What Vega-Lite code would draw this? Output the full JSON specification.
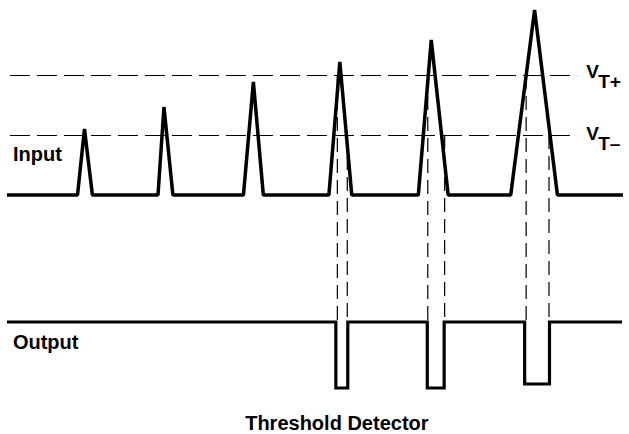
{
  "$schema": "https://vega.github.io/schema/vega-lite/v6.json",
  "width": 629,
  "height": 434,
  "autosize": {"type": "fit", "contains": "padding"},
  "padding": 0,
  "background": "white",
  "config": {"view": {"stroke": null}},
  "datasets": {
    "input": [
      {"t": 6, "v": 239}, {"t": 77, "v": 239}, {"t": 84, "v": 305}, {"t": 92, "v": 239},
      {"t": 158, "v": 239}, {"t": 164, "v": 327}, {"t": 173, "v": 239},
      {"t": 244, "v": 239}, {"t": 254, "v": 352}, {"t": 264, "v": 239},
      {"t": 330, "v": 239}, {"t": 341, "v": 372}, {"t": 353, "v": 239},
      {"t": 420, "v": 239}, {"t": 433, "v": 394}, {"t": 450, "v": 239},
      {"t": 513, "v": 239}, {"t": 537, "v": 424}, {"t": 560, "v": 239},
      {"t": 626, "v": 239}
    ],
    "output": [
      {"t": 6, "v": 112}, {"t": 337, "v": 112}, {"t": 337, "v": 46}, {"t": 349, "v": 46}, {"t": 349, "v": 112},
      {"t": 429, "v": 112}, {"t": 429, "v": 46}, {"t": 446, "v": 46}, {"t": 446, "v": 112},
      {"t": 527, "v": 112}, {"t": 527, "v": 50}, {"t": 552, "v": 50}, {"t": 552, "v": 112},
      {"t": 625, "v": 112}
    ],
    "thresholds": [
      {"name": "VT+", "t0": 9, "t1": 580, "v": 358.5},
      {"name": "VT-", "t0": 9, "t1": 578, "v": 298.5}
    ],
    "edges": [
      {"t": 338.5, "v0": 359, "v1": 112},
      {"t": 348.5, "v0": 299, "v1": 112},
      {"t": 429.5, "v0": 359, "v1": 112},
      {"t": 446.5, "v0": 299, "v1": 112},
      {"t": 528.5, "v0": 359, "v1": 112},
      {"t": 551.5, "v0": 299, "v1": 112}
    ],
    "sideLabels": [
      {"label": "Input", "t": 12, "v": 273},
      {"label": "Output", "t": 12, "v": 85}
    ],
    "title": [
      {"label": "Threshold Detector", "t": 338, "v": 4}
    ],
    "thresholdLabels": [
      {"label": "V", "t": 589, "v": 356},
      {"label": "T+", "t": 601, "v": 346},
      {"label": "V", "t": 589, "v": 294},
      {"label": "T–", "t": 601, "v": 284}
    ]
  },
  "layer": [
    {
      "data": {"name": "thresholds"},
      "mark": {"type": "rule", "stroke": "black", "strokeWidth": 1.2, "strokeDash": [20, 7]},
      "encoding": {
        "x": {"field": "t0", "type": "quantitative", "scale": {"domain": [0, 629], "nice": false, "zero": false}, "axis": null},
        "x2": {"field": "t1"},
        "y": {"field": "v", "type": "quantitative", "scale": {"domain": [0, 434], "nice": false, "zero": false}, "axis": null}
      }
    },
    {
      "data": {"name": "edges"},
      "mark": {"type": "rule", "stroke": "black", "strokeWidth": 1.2, "strokeDash": [14, 7]},
      "encoding": {
        "x": {"field": "t", "type": "quantitative"},
        "y": {"field": "v0", "type": "quantitative"},
        "y2": {"field": "v1"}
      }
    },
    {
      "data": {"name": "input"},
      "mark": {"type": "line", "stroke": "black", "strokeWidth": 3.5, "strokeJoin": "bevel", "strokeCap": "butt"},
      "encoding": {
        "x": {"field": "t", "type": "quantitative"},
        "y": {"field": "v", "type": "quantitative"},
        "order": {"value": null}
      }
    },
    {
      "data": {"name": "output"},
      "mark": {"type": "line", "stroke": "black", "strokeWidth": 3.2, "strokeJoin": "miter", "strokeCap": "butt"},
      "encoding": {
        "x": {"field": "t", "type": "quantitative"},
        "y": {"field": "v", "type": "quantitative"},
        "order": {"value": null}
      }
    },
    {
      "data": {"name": "sideLabels"},
      "mark": {"type": "text", "font": "Liberation Sans", "fontWeight": "bold", "fontSize": 20, "align": "left", "baseline": "alphabetic", "color": "black"},
      "encoding": {
        "x": {"field": "t", "type": "quantitative"},
        "y": {"field": "v", "type": "quantitative"},
        "text": {"field": "label"}
      }
    },
    {
      "data": {"name": "title"},
      "mark": {"type": "text", "font": "Liberation Sans", "fontWeight": "bold", "fontSize": 20, "align": "center", "baseline": "alphabetic", "color": "black"},
      "encoding": {
        "x": {"field": "t", "type": "quantitative"},
        "y": {"field": "v", "type": "quantitative"},
        "text": {"field": "label"}
      }
    },
    {
      "data": {"name": "thresholdLabels"},
      "mark": {"type": "text", "font": "Liberation Sans", "fontWeight": "bold", "fontSize": 19, "align": "left", "baseline": "alphabetic", "color": "black"},
      "encoding": {
        "x": {"field": "t", "type": "quantitative"},
        "y": {"field": "v", "type": "quantitative"},
        "text": {"field": "label"}
      }
    }
  ]
}
